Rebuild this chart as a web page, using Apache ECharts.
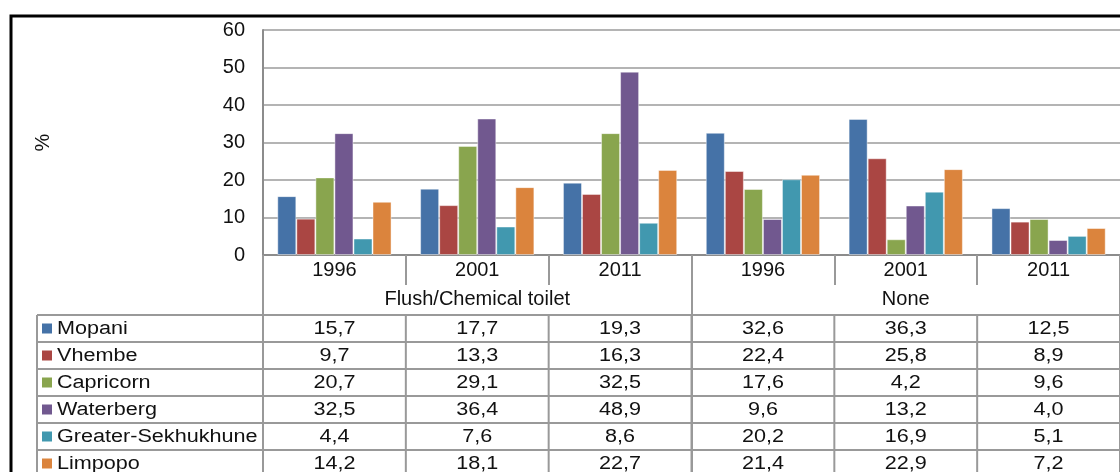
<!DOCTYPE html>
<html>
<head>
<meta charset="utf-8">
<script src="https://cdn.jsdelivr.net/npm/echarts@6/dist/echarts.min.js"></script>
<style>
  html, body { margin: 0; padding: 0; background: #fff; }
  #main { width: 1120px; height: 472px; }
</style>
</head>
<body>
<div id="main"></div>
<script>
// 数据
const years = ['1996', '2001', '2011', '1996', '2001', '2011']
const groups = ['Flush/Chemical toilet', 'None']
const names = ['Mopani', 'Vhembe', 'Capricorn', 'Waterberg', 'Greater-Sekhukhune', 'Limpopo']
const mopani = [15.7, 17.7, 19.3, 32.6, 36.3, 12.5]
const vhembe = [9.7, 13.3, 16.3, 22.4, 25.8, 8.9]
const capricorn = [20.7, 29.1, 32.5, 17.6, 4.2, 9.6]
const waterberg = [32.5, 36.4, 48.9, 9.6, 13.2, 4.0]
const sekhukhune = [4.4, 7.6, 8.6, 20.2, 16.9, 5.1]
const limpopo = [14.2, 18.1, 22.7, 21.4, 22.9, 7.2]
const yTicks = [0, 10, 20, 30, 40, 50, 60]

const values = [mopani, vhembe, capricorn, waterberg, sekhukhune, limpopo]
const colors = ['#4572A7', '#AA4643', '#89A54E', '#71588F', '#4198AF', '#DB843D']

const font = 'Liberation Sans, Arial, sans-serif'
const textColor = '#111'
const lineColor = '#999999'
const rowH = 27

const myChart = echarts.init(document.getElementById('main'))

// 分类用唯一键，显示时只取年份
const catKeys = years.map((y, i) => i + '|' + y)

const options = {
  animation: false,
  grid: { left: 263, top: 30, right: -1, bottom: 217, containLabel: false },
  xAxis: [
    {
      type: 'category',
      data: catKeys,
      axisLine: { show: true, lineStyle: { color: '#8c8c8c', width: 2 } },
      axisTick: { show: true, interval: 0, length: 30, lineStyle: { color: lineColor, width: 2 } },
      axisLabel: {
        interval: 0,
        margin: 5,
        color: textColor,
        fontFamily: font,
        fontSize: 20,
        formatter: (v) => v.split('|')[1],
      },
    },
    {
      type: 'category',
      data: groups,
      position: 'bottom',
      axisLine: { show: false },
      axisTick: { show: true, interval: 0, length: 225, lineStyle: { color: lineColor, width: 2 } },
      axisLabel: {
        interval: 0,
        margin: 34,
        color: textColor,
        fontFamily: font,
        fontSize: 20,
      },
    },
  ],
  yAxis: {
    type: 'value',
    min: yTicks[0],
    max: yTicks[yTicks.length - 1],
    interval: 10,
    name: '%',
    nameLocation: 'middle',
    nameRotate: 90,
    nameGap: 210,
    nameTextStyle: { color: textColor, fontFamily: font, fontSize: 20 },
    axisLine: { show: true, lineStyle: { color: '#8c8c8c', width: 2 } },
    axisTick: { show: false },
    splitLine: { lineStyle: { color: '#b4b4b4', width: 2 } },
    axisLabel: { margin: 18, color: textColor, fontFamily: font, fontSize: 20 },
  },
  series: names.map((n, i) => ({
    name: n,
    type: 'bar',
    data: values[i],
    barGap: '0%',
    barCategoryGap: '20%',
    itemStyle: { color: colors[i], borderColor: 'rgba(255,255,255,0.45)', borderWidth: 1 },
  })),
}
myChart.setOption(options)

// 表格（图例 + 数值）
const drawTable = () => {
  const c0 = myChart.convertToPixel({ xAxisIndex: 0 }, 0)
  const c1 = myChart.convertToPixel({ xAxisIndex: 0 }, 1)
  const band = c1 - c0
  const y0 = myChart.convertToPixel({ yAxisIndex: 0 }, 0)
  const left = c0 - band / 2
  const right = left + band * years.length
  const top = y0 + 60
  const tableLeft = 37
  const g = []

  // 外框（黑色）
  g.push({
    type: 'polyline',
    shape: { points: [[11, 480], [11, 16], [1130, 16]] },
    style: { stroke: '#000', lineWidth: 3, fill: null },
  })

  // 横线
  for (let r = 0; r <= names.length; r++) {
    const y = top + r * rowH
    g.push({
      type: 'line',
      shape: { x1: tableLeft, y1: y, x2: right + 2, y2: y },
      style: { stroke: lineColor, lineWidth: 2 },
    })
  }
  // 竖线
  g.push({
    type: 'line',
    shape: { x1: tableLeft, y1: top, x2: tableLeft, y2: 480 },
    style: { stroke: lineColor, lineWidth: 2 },
  })
  for (let k = 1; k < years.length; k++) {
    const x = left + k * band
    g.push({
      type: 'line',
      shape: { x1: x, y1: top, x2: x, y2: 480 },
      style: { stroke: lineColor, lineWidth: 2 },
    })
  }

  names.forEach((n, r) => {
    const cy = top + r * rowH + rowH / 2 + 1
    g.push({
      type: 'rect',
      shape: { x: 42, y: cy - 6, width: 10, height: 10 },
      style: { fill: colors[r] },
    })
    g.push({
      type: 'text',
      x: 57,
      y: cy,
      scaleX: 1.2,
      style: {
        text: n,
        fill: textColor,
        font: '18px ' + font,
        textAlign: 'left',
        textVerticalAlign: 'middle',
      },
    })
    values[r].forEach((v, k) => {
      g.push({
        type: 'text',
        x: c0 + k * band,
        y: cy,
        scaleX: 1.2,
        style: {
          text: v.toFixed(1).replace('.', ','),
          fill: textColor,
          font: '18px ' + font,
          textAlign: 'center',
          textVerticalAlign: 'middle',
        },
      })
    })
  })

  myChart.setOption({ graphic: { elements: g } })
}
drawTable()
</script>
</body>
</html>
